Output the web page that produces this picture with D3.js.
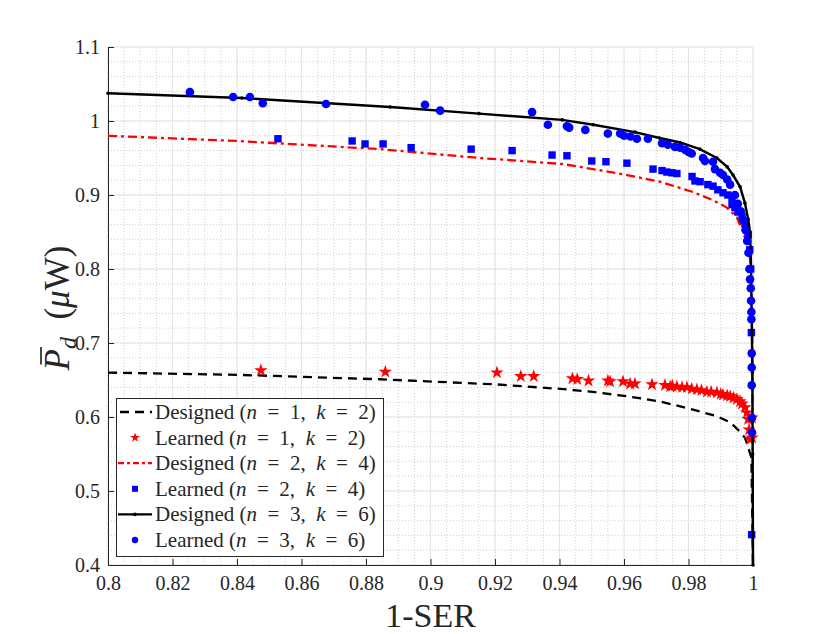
<!DOCTYPE html>
<html>
<head>
<meta charset="utf-8">
<script src="https://cdn.jsdelivr.net/npm/d3@7"></script>
<style>
  body { margin: 0; background: #fff; }
  text { font-family: "Liberation Serif", "DejaVu Serif", serif; fill: #262626; }
</style>
</head>
<body>
<div id="chart"></div>
<script>

// Set dimensions and margins for plot
const width = 830;
const height = 634;
const margin = {left: 108, right: 77, top: 47, bottom: 68};

// tick values
const xTicks = [0.8, 0.82, 0.84, 0.86, 0.88, 0.9, 0.92, 0.94, 0.96, 0.98, 1];
const yTicks = [0.4, 0.5, 0.6, 0.7, 0.8, 0.9, 1, 1.1];

// Designed curves [1-SER, Pd]
const designed1 = [[0.8,0.660],[0.84,0.657],[0.8843,0.651],[0.9206,0.644],[0.9402,0.638],[0.9504,0.634],
  [0.9609,0.628],[0.9712,0.621],[0.9814,0.610],[0.9888,0.601],[0.9929,0.593],[0.996,0.580],
  [0.9975,0.572],[0.9985,0.559],[0.9995,0.545],[1.0,0.4]];
const designed2 = [[0.8,0.980],[0.84,0.973],[0.8843,0.962],[0.9153,0.950],[0.9408,0.942],[0.9504,0.935],
  [0.9609,0.927],[0.9712,0.918],[0.9814,0.904],[0.9876,0.893],[0.9919,0.883],[0.995,0.870],
  [0.9969,0.850],[0.9985,0.830],[0.9991,0.813],[0.9995,0.780],[0.9998,0.700],[1.0,0.4]];
const designed3 = [[0.8,1.0375],[0.8415,1.031],[0.8875,1.019],[0.915,1.010],[0.9408,1.0015],[0.9505,0.995],
  [0.9634,0.985],[0.971,0.977],[0.9774,0.971],[0.9835,0.962],[0.9888,0.950],[0.992,0.938],
  [0.9938,0.927],[0.996,0.911],[0.9975,0.889],[0.9985,0.867],[0.9991,0.850],[0.9994,0.800],
  [0.9996,0.730],[0.9998,0.660],[0.9999,0.550],[1.0,0.4]];

// Learned points
const learned1 = [[0.8474,0.663],[0.886,0.661],[0.9206,0.660],[0.928,0.655],[0.932,0.655],[0.944,0.652],
  [0.9455,0.651],[0.949,0.649],[0.955,0.649],[0.9557,0.648],[0.9597,0.648],[0.9619,0.645],
  [0.9634,0.645],[0.9687,0.644],[0.9727,0.643],[0.9743,0.641],[0.975,0.642],[0.9764,0.641],
  [0.978,0.640],[0.9795,0.640],[0.981,0.638],[0.9826,0.637],[0.984,0.636],[0.9857,0.634],
  [0.987,0.634],[0.9888,0.633],[0.99,0.631],[0.9907,0.630],[0.992,0.629],[0.9929,0.628],
  [0.994,0.626],[0.995,0.624],[0.996,0.621],[0.9966,0.618],[0.9975,0.613],[0.9981,0.606],
  [0.9985,0.597],[0.9988,0.583],[0.9991,0.570],[0.9997,0.599],[0.9997,0.572]];
const learned2 = [[0.8527,0.976],[0.8757,0.973],[0.8797,0.969],[0.8853,0.969],[0.894,0.964],[0.9126,0.962],
  [0.9253,0.960],[0.9377,0.954],[0.9423,0.953],[0.950,0.946],[0.9544,0.945],[0.9609,0.943],
  [0.969,0.935],[0.9718,0.933],[0.9733,0.931],[0.9749,0.930],[0.9764,0.929],[0.9811,0.925],
  [0.982,0.919],[0.9836,0.918],[0.986,0.914],[0.9876,0.912],[0.9891,0.907],[0.9907,0.903],
  [0.9922,0.900],[0.9935,0.896],[0.9935,0.887],[0.9944,0.883],[0.9953,0.877],[0.9966,0.871],
  [0.9975,0.860],[0.9985,0.846],[0.999,0.826],[0.9993,0.800],[0.9995,0.714],[0.9996,0.441]];
const learned3 = [[0.8254,1.039],[0.8388,1.0325],[0.844,1.0325],[0.848,1.024],[0.8676,1.023],[0.8983,1.022],
  [0.903,1.014],[0.9315,1.012],[0.9364,0.995],[0.9423,0.993],[0.943,0.991],[0.948,0.988],
  [0.955,0.983],[0.9588,0.983],[0.960,0.980],[0.962,0.979],[0.964,0.976],[0.9674,0.976],
  [0.9718,0.970],[0.9736,0.968],[0.9758,0.965],[0.9774,0.964],[0.979,0.961],[0.980,0.958],
  [0.981,0.956],[0.9845,0.950],[0.9851,0.946],[0.9876,0.945],[0.9882,0.935],[0.9898,0.930],
  [0.9907,0.927],[0.992,0.921],[0.9929,0.914],[0.9944,0.900],[0.9953,0.888],[0.9962,0.878],
  [0.997,0.866],[0.9978,0.852],[0.9982,0.838],[0.9986,0.822],[0.9989,0.800],[0.9991,0.786],
  [0.9993,0.774],[0.9994,0.757],[0.9995,0.742],[0.9995,0.732],[0.9996,0.686],[0.9996,0.667],
  [0.9996,0.643],[0.9997,0.599],[0.9997,0.579]];

const svg = d3.select("#chart")
  .append("svg")
  .attr("width", width)
  .attr("height", height);

// scales
const xScale = d3.scaleLinear()
  .domain([0.8, 1])
  .range([margin.left, width - margin.right]);
const yScale = d3.scaleLinear()
  .domain([0.4, 1.1])
  .range([height - margin.bottom - 1, margin.top]);

// grid: minor dotted, major light solid
const grid = svg.append("g");
grid.selectAll(".gx")
  .data(d3.range(0, 41).map(i => 0.8 + i * 0.005))
  .enter().append("line")
    .attr("x1", d => xScale(d)).attr("x2", d => xScale(d))
    .attr("y1", yScale(0.4)).attr("y2", yScale(1.1))
    .attr("stroke", "#cfcfcf").attr("stroke-dasharray", "1,2");
grid.selectAll(".gy")
  .data(d3.range(0, 36).map(i => 0.4 + i * 0.02))
  .enter().append("line")
    .attr("y1", d => yScale(d)).attr("y2", d => yScale(d))
    .attr("x1", xScale(0.8)).attr("x2", xScale(1))
    .attr("stroke", "#cfcfcf").attr("stroke-dasharray", "1,2");
grid.selectAll(".mx")
  .data(xTicks).enter().append("line")
    .attr("x1", d => xScale(d)).attr("x2", d => xScale(d))
    .attr("y1", yScale(0.4)).attr("y2", yScale(1.1))
    .attr("stroke", "#e4e4e4");
grid.selectAll(".my")
  .data(yTicks).enter().append("line")
    .attr("y1", d => yScale(d)).attr("y2", d => yScale(d))
    .attr("x1", xScale(0.8)).attr("x2", xScale(1))
    .attr("stroke", "#e4e4e4");

// axes
const xAxis = svg.append("g")
  .attr("transform", `translate(0,${yScale(0.4)})`)
  .call(d3.axisBottom(xScale).tickValues(xTicks)
    .tickSizeInner(-6).tickSizeOuter(0).tickPadding(11)
    .tickFormat(d => +d.toFixed(2)));
const yAxis = svg.append("g")
  .attr("transform", `translate(${xScale(0.8)},0)`)
  .call(d3.axisLeft(yScale).tickValues(yTicks)
    .tickSizeInner(-6).tickSizeOuter(0).tickPadding(8)
    .tickFormat(d => +d.toFixed(1)));
[xAxis, yAxis].forEach(a => {
  a.selectAll("path, line").attr("stroke", "#262626");
  a.selectAll("text").attr("font-size", "20px")
    .attr("font-family", "Liberation Serif").attr("fill", "#262626");
});

// lines
const line = d3.line().x(d => xScale(d[0])).y(d => yScale(d[1]));

const plot = svg.append("g");

plot.append("path").datum(designed1)
  .attr("d", line).attr("fill", "none")
  .attr("stroke", "#000").attr("stroke-width", 2.3)
  .attr("stroke-dasharray", "9,6");

const star = d3.symbol().type(d3.symbolStar).size(56);
plot.selectAll(".star").data(learned1).enter().append("path")
  .attr("d", star)
  .attr("transform", d => `translate(${xScale(d[0])},${yScale(d[1])})`)
  .attr("fill", "#ff0000");

plot.append("path").datum(designed2)
  .attr("d", line).attr("fill", "none")
  .attr("stroke", "#ff0000").attr("stroke-width", 2.3)
  .attr("stroke-dasharray", "9,4,3,4");

plot.selectAll(".sq").data(learned2).enter().append("rect")
  .attr("x", d => xScale(d[0]) - 3.7)
  .attr("y", d => yScale(d[1]) - 3.7)
  .attr("width", 7.4).attr("height", 7.4)
  .attr("fill", "#0000ff");

plot.append("path").datum(designed3)
  .attr("d", line).attr("fill", "none")
  .attr("stroke", "#000").attr("stroke-width", 2.4);
plot.selectAll(".dot").data(designed3).enter().append("circle")
  .attr("cx", d => xScale(d[0])).attr("cy", d => yScale(d[1]))
  .attr("r", 1.8).attr("fill", "#000");

plot.selectAll(".circ").data(learned3).enter().append("circle")
  .attr("cx", d => xScale(d[0])).attr("cy", d => yScale(d[1]))
  .attr("r", 4.3).attr("fill", "#0000ff");

// axis labels
svg.append("text")
  .attr("x", xScale(0.9)).attr("y", 627)
  .attr("text-anchor", "middle")
  .attr("font-size", "34px")
  .text("1-SER");

const yl = svg.append("g").attr("transform", "translate(69,308) rotate(-90)");
const ylText = yl.append("text").attr("text-anchor", "middle").attr("font-size", "35px")
  .style("white-space", "pre");
ylText.append("tspan").style("font-style", "italic").text("P");
ylText.append("tspan").style("font-style", "italic").attr("font-size", "24px").attr("dy", 7).text("d");
ylText.append("tspan").attr("dy", -7).text("  (");
ylText.append("tspan").style("font-style", "italic").text("μ");
ylText.append("tspan").text("W)");
const pBox = ylText.node().getExtentOfChar(0);
yl.append("line")
  .attr("x1", pBox.x + 6).attr("x2", pBox.x + pBox.width + 2)
  .attr("y1", -28).attr("y2", -28)
  .attr("stroke", "#262626").attr("stroke-width", 1.7);

// legend
const legendRows = [
  {label: "Designed", n: 1, k: 2, kind: "dash"},
  {label: "Learned", n: 1, k: 2, kind: "star"},
  {label: "Designed", n: 2, k: 4, kind: "dashdot"},
  {label: "Learned", n: 2, k: 4, kind: "square"},
  {label: "Designed", n: 3, k: 6, kind: "solid"},
  {label: "Learned", n: 3, k: 6, kind: "circle"}
];
const legend = svg.append("g");
legend.append("rect")
  .attr("x", 116.5).attr("y", 398.5).attr("width", 267).attr("height", 158)
  .attr("fill", "#fff").attr("stroke", "#262626").attr("stroke-width", 1);

legendRows.forEach((r, i) => {
  const cy = 412 + i * 25.6;
  const g = legend.append("g");
  if (r.kind === "dash") {
    g.append("line").attr("x1", 118).attr("x2", 152).attr("y1", cy).attr("y2", cy)
      .attr("stroke", "#000").attr("stroke-width", 2.3).attr("stroke-dasharray", "9,6").attr("stroke-dashoffset", -2);
  } else if (r.kind === "dashdot") {
    g.append("line").attr("x1", 118).attr("x2", 152).attr("y1", cy).attr("y2", cy)
      .attr("stroke", "#ff0000").attr("stroke-width", 2.3).attr("stroke-dasharray", "6,3,3,3");
  } else if (r.kind === "solid") {
    g.append("line").attr("x1", 118).attr("x2", 152).attr("y1", cy).attr("y2", cy)
      .attr("stroke", "#000").attr("stroke-width", 2.4);
    g.append("circle").attr("cx", 135).attr("cy", cy).attr("r", 1.8).attr("fill", "#000");
  } else if (r.kind === "star") {
    g.append("path").attr("d", d3.symbol().type(d3.symbolStar).size(30))
      .attr("transform", `translate(135,${cy})`).attr("fill", "#ff0000");
  } else if (r.kind === "square") {
    g.append("rect").attr("x", 132).attr("y", cy - 3).attr("width", 6).attr("height", 6).attr("fill", "#0000ff");
  } else {
    g.append("circle").attr("cx", 135).attr("cy", cy).attr("r", 3.2).attr("fill", "#0000ff");
  }
  const t = g.append("text").attr("x", 155).attr("y", cy + 7)
    .attr("font-size", "21px").style("white-space", "pre");
  t.append("tspan").text(r.label + " (");
  t.append("tspan").style("font-style", "italic").text("n");
  t.append("tspan").text("  =  " + r.n + ",  ");
  t.append("tspan").style("font-style", "italic").text("k");
  t.append("tspan").text("  =  " + r.k + ")");
});

</script>
</body>
</html>
